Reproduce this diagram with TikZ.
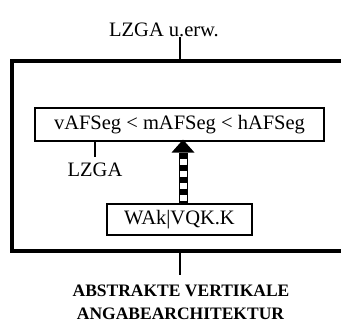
\documentclass[tikz,border=0pt]{standalone}
\usepackage{fontspec}
\setmainfont{Liberation Serif}
\begin{document}
\begin{tikzpicture}[x=1pt,y=-1pt,
  reg/.style={font=\fontsize{20.5}{24}\selectfont},
  bld/.style={font=\fontsize{17.5}{21}\selectfont\bfseries},
  boxed/.style={draw, line width=1.2pt, inner sep=0pt, reg},
  thin/.style={line width=1.2pt}]
\useasboundingbox (0,0) rectangle (341,322);
\node[draw, line width=4pt, minimum width=336pt, minimum height=190pt, inner sep=0pt] (outer) at (180,155.5) {};
\node[reg, anchor=base, inner sep=0pt] (top) at (164,36) {LZGA u.erw.};
\coordinate (ctop) at (180,37);
\draw[thin] (ctop) -- (outer.north);
\node[boxed, minimum width=289pt, minimum height=33pt] (seg) at (179.5,124.5) {vAFSeg < mAFSeg < hAFSeg};
\node[reg, anchor=base, inner sep=5pt] (lzga) at (95,176) {LZGA};
\draw[thin] (seg.south -| lzga) -- (lzga.north);
\node[boxed, minimum width=145pt, minimum height=31pt] (wak) at (179.5,219.5) {WAk|VQK.K};
% arrow
\fill ([xshift=3.5pt,yshift=2pt]seg.south) -- ++(-11.5,13) -- ++(23,0) -- cycle;
\draw[line width=9pt] ([xshift=3.5pt]wak.north) -- ([xshift=3.5pt,yshift=-11pt]seg.south);
\draw[line width=7pt, white] ([xshift=3.5pt]wak.north) -- ([xshift=3.5pt,yshift=-11pt]seg.south);
\draw[line width=7pt, dash pattern=on 6.5pt off 5.5pt] ([xshift=3.5pt,yshift=-11pt]seg.south) -- ([xshift=3.5pt]wak.north);
% bottom
\coordinate (cbot) at (180,275);
\draw[thin] (outer.south) -- (cbot);
\node[bld, anchor=base, inner sep=0pt] (b1) at (181,296) {ABSTRAKTE VERTIKALE};
\node[bld, anchor=base, inner sep=0pt] (b2) at (180.5,319) {ANGABEARCHITEKTUR};
\end{tikzpicture}
\end{document}
